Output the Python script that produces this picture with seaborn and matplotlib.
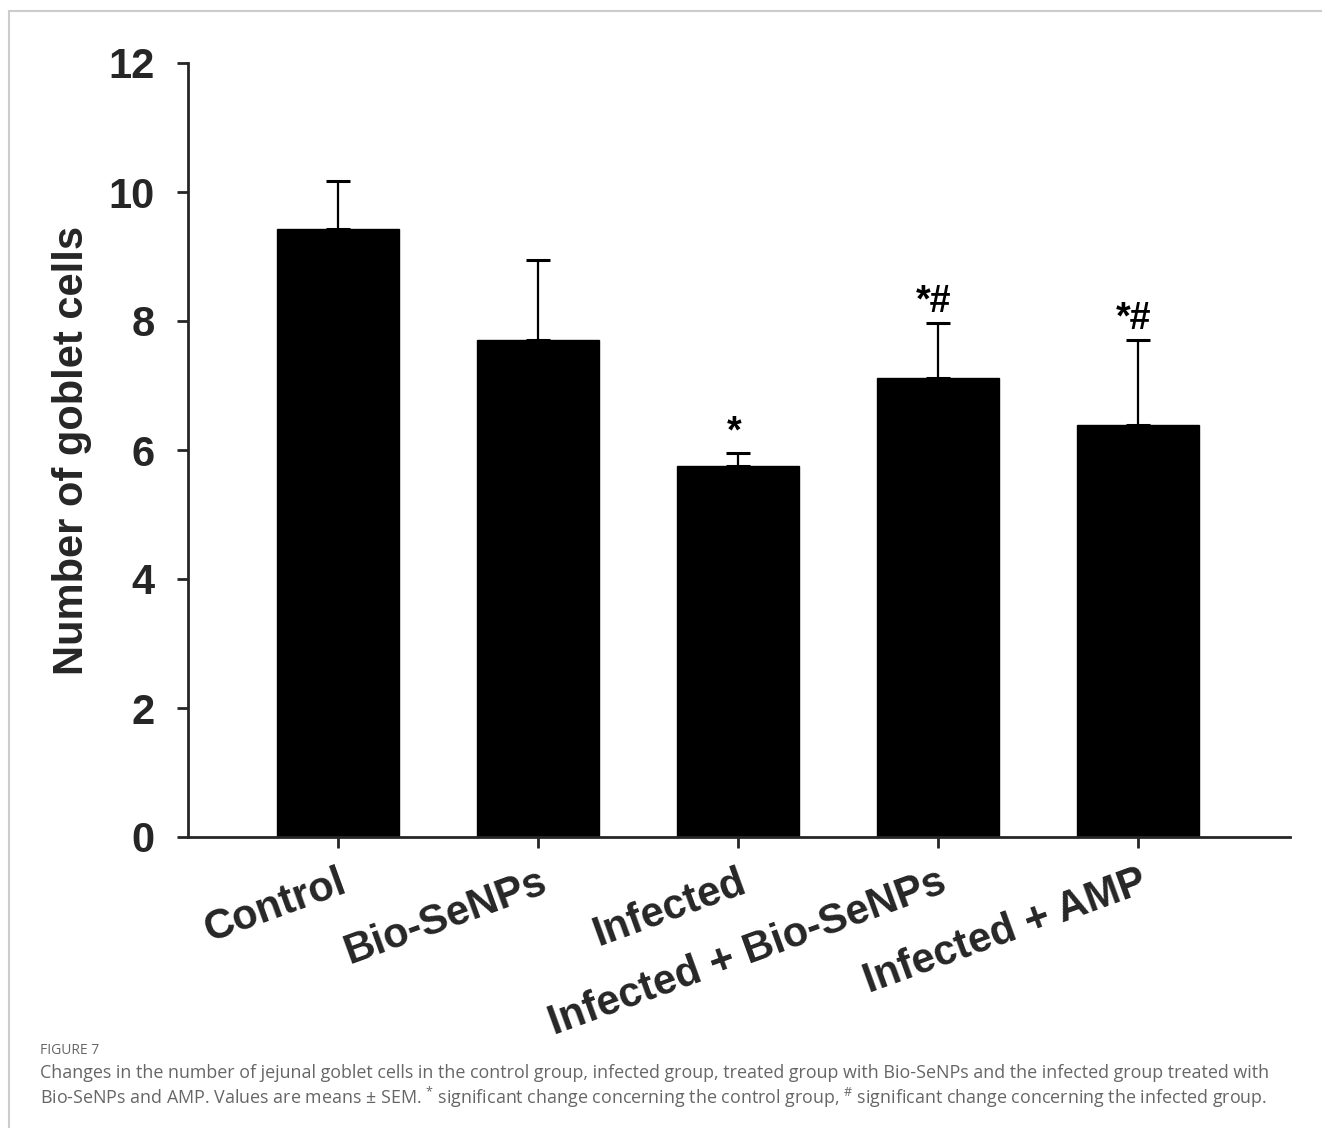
import matplotlib
matplotlib.use("Agg")
import matplotlib.pyplot as plt
import seaborn as sns
import pandas as pd
from matplotlib.lines import Line2D

groups = ["Control", "Bio-SeNPs", "Infected", "Infected + Bio-SeNPs", "Infected + AMP"]
means = [9.43, 7.71, 5.75, 7.12, 6.39]
sems = [0.74, 1.24, 0.20, 0.85, 1.32]
marks = ["", "", "*", "*#", "*#"]

y_ticks = [0, 2, 4, 6, 8, 10, 12]
y_label = "Number of goblet cells"
fig_label = "FIGURE 7"
caption_1 = ("Changes in the number of jejunal goblet cells in the control group, infected group, "
             "treated group with Bio-SeNPs and the infected group treated with")
caption_2 = (r"Bio-SeNPs and AMP. Values are means ± SEM. $^{*}$ significant change concerning the "
             r"control group, $^{\#}$ significant change concerning the infected group.")

sns.set_style("ticks")
plt.rcParams["font.family"] = ["Liberation Sans", "DejaVu Sans"]
plt.rcParams["mathtext.fontset"] = "custom"
plt.rcParams["mathtext.rm"] = "Open Sans"
plt.rcParams["mathtext.it"] = "Open Sans"
plt.rcParams["mathtext.bf"] = "Open Sans"

df = pd.DataFrame({"group": groups, "mean": means, "sem": sems})

fig = plt.figure(figsize=(13.22, 11.28), dpi=100)
ax = fig.add_axes([188 / 1322, 291 / 1128, (1290 - 188) / 1322, (837 - 63) / 1128])

sns.barplot(data=df, x="group", y="mean", color="black", width=0.61,
            saturation=1, ax=ax, errorbar=None, edgecolor="black")
xs = list(range(len(groups)))
ax.errorbar(xs, means, yerr=[[0] * len(sems), sems], fmt="none", ecolor="black",
            elinewidth=1.6, capsize=8.5, capthick=2.2, zorder=1)

for x, m, s, t in zip(xs, means, sems, marks):
    if t:
        ax.text(x - 0.02, m + s + 0.17, t, ha="center", va="baseline",
                fontsize=27, fontweight="bold", color="black")

ax.set_xlim(-0.75, 4.76)
ax.set_ylim(0, 12)
ax.set_yticks(y_ticks)
ax.set_yticklabels([str(v) for v in y_ticks], fontsize=30, fontweight="bold")
ax.set_xticks(xs)
ax.set_xticklabels(groups, fontsize=30, fontweight="bold", rotation=20,
                   ha="right", va="top", rotation_mode="anchor")
ax.set_xlabel("")
ax.set_ylabel(y_label, fontsize=30, fontweight="bold", labelpad=12)

sns.despine(ax=ax)
for sp in ["left", "bottom"]:
    ax.spines[sp].set_linewidth(2)
ax.tick_params(axis="y", length=8, width=2, pad=16, direction="out")
ax.tick_params(axis="x", length=8, width=2, pad=10, direction="out")

# frame lines
fig.add_artist(Line2D([9 / 1322, 1], [1 - 11 / 1128, 1 - 11 / 1128], color="#cccccc", lw=1.5))
fig.add_artist(Line2D([9 / 1322, 9 / 1322], [0, 1 - 11 / 1128], color="#cccccc", lw=1.5))

fig.text(40 / 1322, 1 - 1050 / 1128, fig_label, fontsize=10, color="#666666",
         family=["Open Sans", "DejaVu Sans"], va="center", ha="left")
fig.text(40 / 1322, 1 - 1073 / 1128, caption_1, fontsize=12.9, color="#666666",
         family=["Open Sans", "DejaVu Sans"], va="center", ha="left")
fig.text(40 / 1322, 1 - 1097 / 1128, caption_2, fontsize=12.9, color="#666666",
         family=["Open Sans", "DejaVu Sans"], va="center", ha="left")

fig.savefig("out.png", dpi=100, facecolor="white")
